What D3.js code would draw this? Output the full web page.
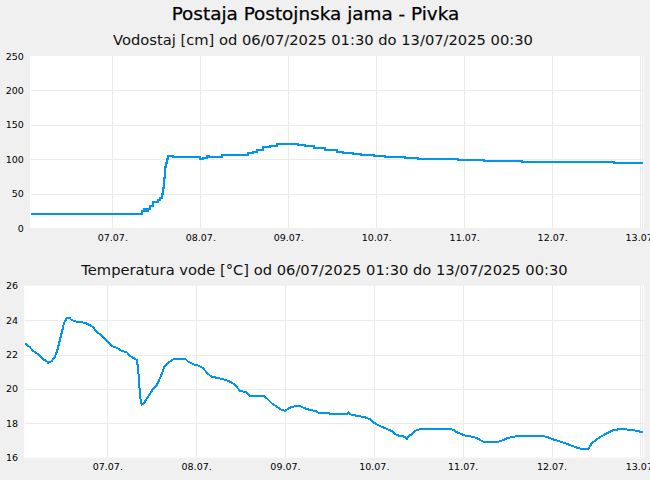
<!DOCTYPE html>
<html><head><meta charset="utf-8">
<script src="https://cdn.jsdelivr.net/npm/d3@7"></script>
<style>
html,body{margin:0;padding:0;background:#f0f0f0;}
svg{display:block;font-family:"DejaVu Sans",sans-serif;}
</style></head>
<body>
<svg id="c" width="650" height="480"></svg>
<script>
const title = "Postaja Postojnska jama - Pivka";
const subLevel = "Vodostaj [cm] od 06/07/2025 01:30 do 13/07/2025 00:30";
const subTemp = "Temperatura vode [°C] od 06/07/2025 01:30 do 13/07/2025 00:30";
const period = ["07-06 01:30", "07-13 00:30"];
const dayTicks = ["07-07 00:00","07-08 00:00","07-09 00:00","07-10 00:00","07-11 00:00","07-12 00:00","07-13 00:00"];
const levelTicks = [0, 50, 100, 150, 200, 250];
const tempTicks = [16, 18, 20, 22, 24, 26];

const level = [
["07-06 01:30",20],["07-07 07:05",21],["07-07 07:50",24],["07-07 08:30",28],["07-07 08:50",25],
["07-07 09:30",28],["07-07 10:00",32],["07-07 10:55",38],["07-07 12:05",41],["07-07 12:45",44],
["07-07 13:10",49],["07-07 13:40",58],["07-07 13:50",72],["07-07 14:00",89],["07-07 14:15",95],
["07-07 14:35",101],["07-07 15:00",105],["07-07 16:05",104],["07-07 16:20",103.5],["07-07 22:45",102.5],
["07-07 23:40",101],["07-08 00:30",102],["07-08 01:40",105],["07-08 02:05",103.5],["07-08 05:35",106.5],
["07-08 12:50",108.5],["07-08 14:10",111],["07-08 15:10",113.4],["07-08 16:55",117.3],["07-08 18:45",119.7],
["07-08 20:35",122.6],["07-09 02:25",120.6],["07-09 04:20",118.7],["07-09 06:45",116.3],["07-09 09:45",113.9],
["07-09 13:00",111],["07-09 14:40",109],["07-09 17:25",108],["07-09 19:35",106],["07-09 23:10",104.6],
["07-10 02:10",103.7],["07-10 07:35",102.2],["07-10 11:10",100.8],["07-10 22:00",99.4],["07-11 05:10",97.9],
["07-11 15:30",96],["07-12 16:35",94.5],["07-13 00:30",94.5]
];

const temp = [
["07-06 01:30",22.65],["07-06 02:50",22.42],["07-06 03:45",22.2],["07-06 05:05",22.0],["07-06 06:25",21.72],
["07-06 07:20",21.62],["07-06 07:45",21.52],["07-06 08:45",21.62],["07-06 09:35",21.87],["07-06 10:15",22.26],
["07-06 10:55",22.84],["07-06 11:30",23.33],["07-06 12:00",23.81],["07-06 12:45",24.1],["07-06 13:30",24.14],
["07-06 14:05",24.0],["07-06 15:30",23.9],["07-06 17:40",23.85],["07-06 18:35",23.76],["07-06 19:55",23.58],
["07-06 20:50",23.33],["07-06 22:15",23.1],["07-06 23:35",22.79],["07-07 00:55",22.49],["07-07 02:15",22.4],
["07-07 03:35",22.22],["07-07 05:00",22.13],["07-07 05:50",21.91],["07-07 06:45",21.81],["07-07 07:40",21.68],
["07-07 07:55",21.39],["07-07 08:15",20.71],["07-07 08:30",19.84],["07-07 08:45",19.35],["07-07 09:00",19.1],
["07-07 09:40",19.16],["07-07 10:25",19.45],["07-07 11:15",19.7],["07-07 12:10",20.03],["07-07 13:05",20.23],
["07-07 13:45",20.52],["07-07 14:30",20.9],["07-07 15:10",21.3],["07-07 16:15",21.52],["07-07 17:10",21.68],
["07-07 18:00",21.76],["07-07 20:45",21.76],["07-07 21:35",21.58],["07-07 23:00",21.43],["07-08 00:20",21.35],
["07-08 01:40",21.2],["07-08 02:35",20.94],["07-08 03:55",20.71],["07-08 05:15",20.65],["07-08 07:05",20.56],
["07-08 08:55",20.42],["07-08 10:15",20.23],["07-08 11:35",19.88],["07-08 13:25",19.8],["07-08 14:15",19.6],
["07-08 17:55",19.6],["07-08 18:50",19.45],["07-08 20:10",19.16],["07-08 21:30",18.97],["07-08 22:50",18.77],
["07-08 23:45",18.73],["07-09 01:05",18.91],["07-09 02:55",19.02],["07-09 03:50",19.0],["07-09 04:40",18.91],
["07-09 06:30",18.77],["07-09 07:50",18.73],["07-09 08:45",18.62],["07-09 11:25",18.62],["07-09 11:55",18.52],
["07-09 16:25",18.52],["07-09 16:50",18.64],["07-09 17:20",18.52],["07-09 19:05",18.44],["07-09 21:20",18.35],
["07-09 22:45",18.23],["07-09 23:35",18.06],["07-10 00:30",17.94],["07-10 01:50",17.8],["07-10 03:15",17.67],
["07-10 04:35",17.55],["07-10 05:30",17.36],["07-10 06:50",17.26],["07-10 08:10",17.22],["07-10 08:40",17.09],
["07-10 09:05",17.26],["07-10 10:00",17.36],["07-10 10:50",17.55],["07-10 12:15",17.67],["07-10 20:20",17.67],
["07-10 21:15",17.61],["07-10 22:10",17.48],["07-10 23:30",17.36],["07-11 00:50",17.26],["07-11 02:35",17.22],
["07-11 04:00",17.09],["07-11 05:20",16.93],["07-11 09:25",16.93],["07-11 10:45",17.03],["07-11 12:05",17.16],
["07-11 15:15",17.28],["07-11 20:40",17.28],["07-11 22:25",17.22],["07-11 23:50",17.09],["07-12 01:35",16.97],
["07-12 03:25",16.84],["07-12 05:10",16.7],["07-12 06:35",16.58],["07-12 07:55",16.5],["07-12 09:40",16.5],
["07-12 10:35",16.84],["07-12 12:00",17.07],["07-12 13:20",17.26],["07-12 14:40",17.42],["07-12 16:25",17.61],
["07-12 18:45",17.67],["07-12 21:25",17.61],["07-12 23:10",17.55],["07-13 00:05",17.48],["07-13 00:30",17.48]
];

const parse = s => d3.timeParse("%Y-%m-%d %H:%M")("2025-" + s);
const svg = d3.select("#c");
const lineColor = "#0096f0";
const gridColor = "#ebebeb";

svg.append("text").attr("x", 315.5).attr("y", 13).attr("text-anchor","middle")
  .attr("dominant-baseline","central").attr("font-size", 18.4).attr("fill","#000")
  .attr("stroke", "#000").attr("stroke-width", 0.25).text(title);

function panel(cfg) {
  const x = d3.scaleTime().domain(period.map(parse)).range([cfg.x0, cfg.x1]);
  const y = d3.scaleLinear().domain(cfg.yDomain).range([cfg.yb, cfg.yt]);
  const g = svg.append("g");
  g.append("rect").attr("x", cfg.x0 - 0.8).attr("y", cfg.yt).attr("width", cfg.x1 - cfg.x0 + 1.5)
    .attr("height", cfg.yb - cfg.yt).attr("fill", "#fff");
  g.selectAll(".hg").data(cfg.yTicks.filter(v => v !== cfg.yDomain[0] && v !== cfg.yDomain[1])).join("line")
    .attr("x1", cfg.x0).attr("x2", cfg.x1 + 0.7)
    .attr("y1", d => Math.round(y(d)) + 0.5).attr("y2", d => Math.round(y(d)) + 0.5)
    .attr("stroke", gridColor).attr("stroke-width", 1);
  const vt = dayTicks.map(parse).concat([parse(period[1])]);
  g.selectAll(".vg").data(vt).join("line")
    .attr("x1", d => Math.round(x(d)) - 0.5).attr("x2", d => Math.round(x(d)) - 0.5)
    .attr("y1", cfg.yt).attr("y2", cfg.yb)
    .attr("stroke", gridColor).attr("stroke-width", 1);
  const ya = d3.axisLeft(y).tickValues(cfg.yTicks).tickSize(0).tickPadding(cfg.ypad);
  const yg = g.append("g").attr("transform", `translate(${cfg.x0},0)`).call(ya);
  yg.select(".domain").remove();
  yg.selectAll("text").attr("font-size", 9.5).attr("fill", "#000").attr("font-family", "DejaVu Sans");
  const xa = d3.axisBottom(x).tickValues(dayTicks.map(parse)).tickSize(0).tickPadding(cfg.xpad)
    .tickFormat(d3.timeFormat("%d.%m."));
  const xg = g.append("g").attr("transform", `translate(-1,${cfg.yb})`).call(xa);
  xg.select(".domain").remove();
  xg.selectAll("text").attr("font-size", 9.5).attr("fill", "#000").attr("font-family", "DejaVu Sans");
  const data = cfg.data.map(d => ({t: parse(d[0]), v: d[1]}));
  g.append("path").datum(data)
    .attr("d", d3.line().x(d => x(d.t)).y(d => y(d.v)).curve(cfg.curve))
    .attr("fill", "none").attr("stroke", lineColor).attr("stroke-width", 2)
    .attr("shape-rendering", cfg.crisp ? "crispEdges" : "auto");
  svg.append("text").attr("x", cfg.subX).attr("y", cfg.subY).attr("text-anchor", "middle")
    .attr("dominant-baseline", "central").attr("font-size", 14.7).attr("fill", "#111").text(cfg.sub);
}

panel({x0: 30.85, x1: 643, yt: 56, yb: 228, yDomain: [0, 250], yTicks: levelTicks,
  data: level, curve: d3.curveStepAfter, crisp: true, sub: subLevel, subX: 323, subY: 39, ypad: 7, xpad: 6});
panel({x0: 25, x1: 643.2, yt: 285.7, yb: 457.7, yDomain: [16, 26], yTicks: tempTicks,
  data: temp, curve: d3.curveLinear, crisp: true, sub: subTemp, subX: 324.5, subY: 269, ypad: 7, xpad: 6});
</script>
</body></html>
